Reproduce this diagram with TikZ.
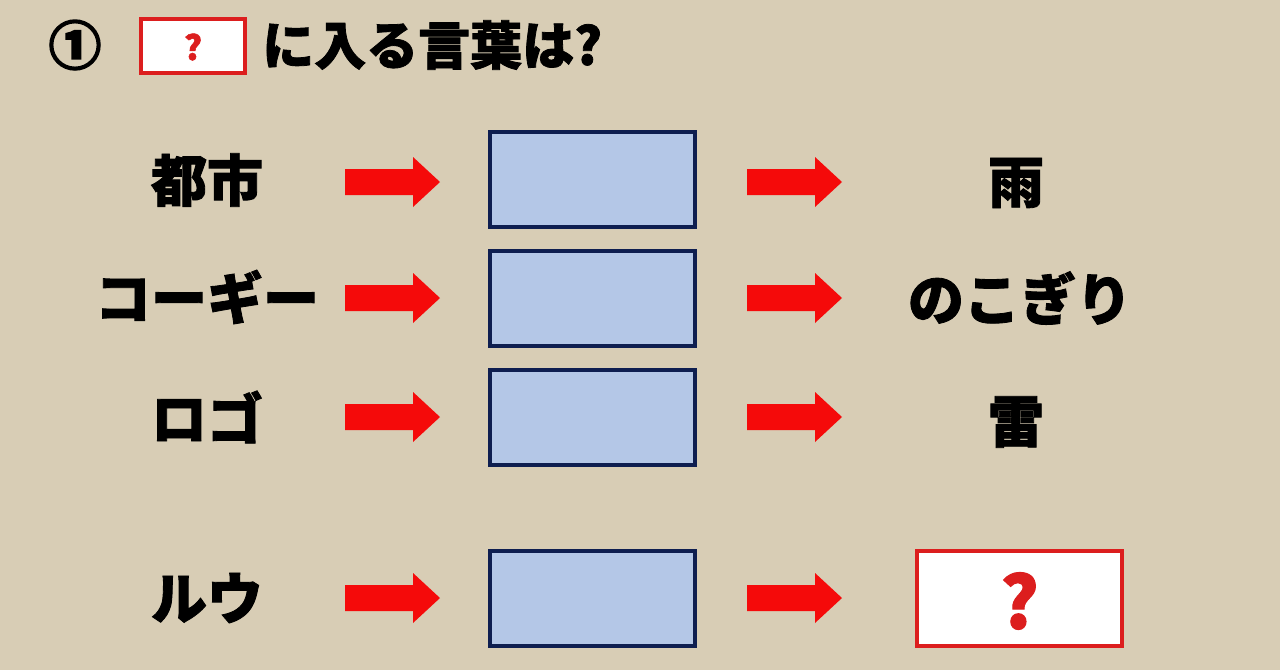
\documentclass[tikz,border=0pt]{standalone}
\usepackage{fontspec}
\newfontfamily\cjk{Noto Sans CJK JP}[BoldFeatures={FakeBold=1.5}]
\newfontfamily\cjkfb{Noto Sans CJK JP}[BoldFeatures={FakeBold=4}]
\definecolor{bg}{RGB}{216,205,181}
\definecolor{arrowred}{RGB}{245,10,10}
\definecolor{boxfill}{RGB}{180,199,231}
\definecolor{boxline}{RGB}{14,30,80}
\definecolor{qred}{RGB}{220,30,30}
\tikzset{
  word/.style={font=\cjk\bfseries\fontsize{56}{60}\selectfont, text=black, inner sep=0pt},
  bluebox/.style={draw=boxline, line width=4pt, fill=boxfill, minimum width=205pt, minimum height=95pt, inner sep=0pt},
  qbox/.style={draw=qred, line width=4pt, fill=white, inner sep=0pt},
  blockarrow/.pic={\fill[arrowred] (0,-13) -- (68,-13) -- (68,-25) -- (95,0) -- (68,25) -- (68,13) -- (0,13) -- cycle;}
}
\begin{document}
\begin{tikzpicture}[x=1pt,y=-1pt]
\fill[bg] (0,0) rectangle (1280,670);
\useasboundingbox (0,0) rectangle (1280,670);
% title
\node[font=\cjkfb\bfseries\fontsize{52}{56}\selectfont, inner sep=0pt] (num) at (75,45) {①};
\node[qbox, minimum width=104pt, minimum height=54pt] (tq) at (193,46) {};
\node[font=\cjk\bfseries\fontsize{34}{38}\selectfont, text=qred, inner sep=0pt] (tqm) at (193,47) {?};
\node[font=\cjk\bfseries\fontsize{52}{56}\selectfont, inner sep=0pt, anchor=west] (title) at (262,45) {に入る言葉は?};
% rows
\node[word] (l1) at (207,180) {都市};
\node[word] (l2) at (207,297) {コーギー};
\node[word] (l3) at (207,417) {ロゴ};
\node[word] (l4) at (207,598) {ルウ};
\node[bluebox] (b1) at (592.5,179.5) {};
\node[bluebox] (b2) at (592.5,298.5) {};
\node[bluebox] (b3) at (592.5,417.5) {};
\node[bluebox] (b4) at (592.5,598.5) {};
\node[word] (r1) at (1016,183) {雨};
\node[word] (r2) at (1020,298) {のこぎり};
\node[word] (r3) at (1016,422) {雷};
\node[qbox, minimum width=205pt, minimum height=95pt] (q4) at (1019.5,598.5) {};
\node[font=\cjk\bfseries\fontsize{72}{76}\selectfont, text=qred, inner sep=0pt] (q4m) at (1019.5,601) {?};
% arrows
\foreach \y in {182,298,417,598} {
  \pic at (345,\y) {blockarrow};
  \pic at (747,\y) {blockarrow};
}
\end{tikzpicture}
\end{document}
